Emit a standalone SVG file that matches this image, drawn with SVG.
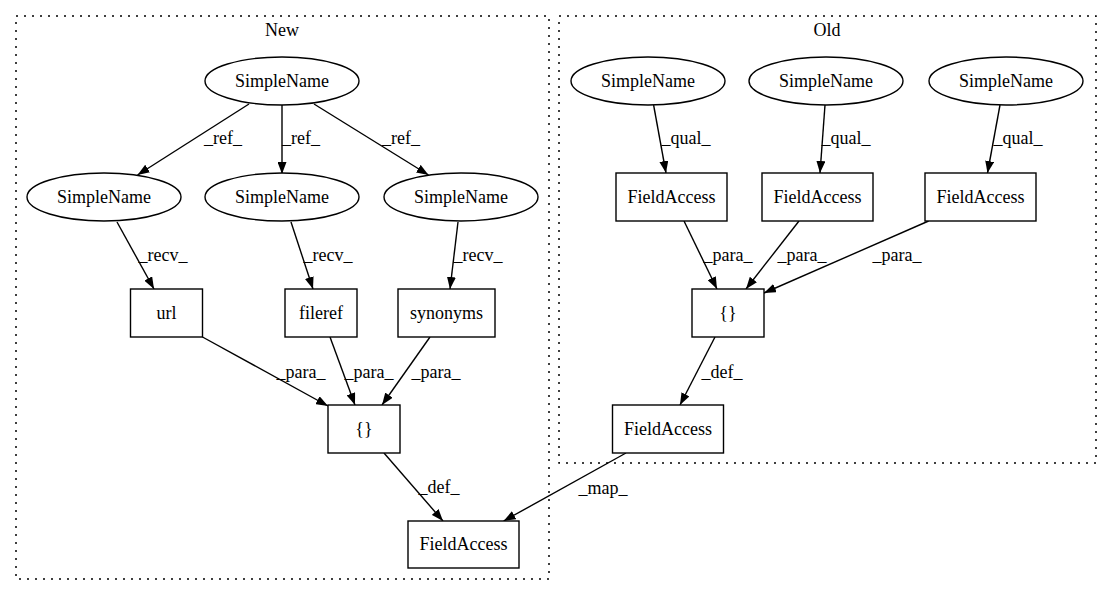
<svg xmlns="http://www.w3.org/2000/svg" width="1109" height="596" viewBox="0 0 1109 596">
<style>
text{font-family:"Liberation Serif","Times New Roman",serif;font-size:18px;fill:#000;text-anchor:middle}
.n{fill:#fff;stroke:#000;stroke-width:1.4}
.c{fill:none;stroke:#000;stroke-width:1.5;stroke-dasharray:2,6}
.e{fill:none;stroke:#000;stroke-width:1.4;marker-end:url(#arr)}
</style>
<defs>
<marker id="arr" viewBox="0 0 12 9" refX="12" refY="4.5" markerWidth="12" markerHeight="9" orient="auto" markerUnits="userSpaceOnUse"><path d="M0,0 L12,4.5 L0,9 z" fill="#000"/></marker>
</defs>
<rect width="1109" height="596" fill="#fff"/>
<g id="clusters">
<rect class="c" x="16" y="16" width="533" height="563"/>
<text x="282" y="36">New</text>
<rect class="c" x="559" y="16" width="537" height="447"/>
<text x="827" y="36">Old</text>
</g>
<g id="connectors">
<path class="e" d="M249,104 L137.5,175"/>
<path class="e" d="M282,105 L282,174"/>
<path class="e" d="M314,104 L428.5,175"/>
<path class="e" d="M117,222 L154,289"/>
<path class="e" d="M291,222 L313,289"/>
<path class="e" d="M458,222 L450,289"/>
<path class="e" d="M202.5,337 L328,406"/>
<path class="e" d="M330,337 L355,405"/>
<path class="e" d="M430,337 L382,405"/>
<path class="e" d="M384,453 L443,521"/>
<path class="e" d="M653.6,105 L666,173"/>
<path class="e" d="M825,105 L820,173"/>
<path class="e" d="M1000,105 L987.5,173"/>
<path class="e" d="M684,221 L717,289"/>
<path class="e" d="M799,221 L746,289"/>
<path class="e" d="M928.6,221 L764,293"/>
<path class="e" d="M715,337 L680,405"/>
<path class="e" d="M626,453 L503.6,521"/>
<text x="223" y="144">_ref_</text>
<text x="301" y="144">_ref_</text>
<text x="401" y="144">_ref_</text>
<text x="163" y="261">_recv_</text>
<text x="328" y="261">_recv_</text>
<text x="478" y="261">_recv_</text>
<text x="301" y="378">_para_</text>
<text x="369" y="378">_para_</text>
<text x="436" y="378">_para_</text>
<text x="439" y="493">_def_</text>
<text x="686" y="144">_qual_</text>
<text x="846" y="144">_qual_</text>
<text x="1018" y="144">_qual_</text>
<text x="728" y="261">_para_</text>
<text x="802" y="261">_para_</text>
<text x="897" y="261">_para_</text>
<text x="722" y="378">_def_</text>
<text x="603" y="494">_map_</text>
</g>
<g id="new_sn_top"><ellipse class="n" cx="282" cy="81" rx="77" ry="24"/><text x="282" y="87">SimpleName</text></g>
<g id="new_sn_1"><ellipse class="n" cx="104" cy="197" rx="77" ry="24"/><text x="104" y="203">SimpleName</text></g>
<g id="new_sn_2"><ellipse class="n" cx="282" cy="197" rx="77" ry="24"/><text x="282" y="203">SimpleName</text></g>
<g id="new_sn_3"><ellipse class="n" cx="461" cy="197" rx="77" ry="24"/><text x="461" y="203">SimpleName</text></g>
<g id="new_url"><rect class="n" x="130.5" y="289" width="72" height="48"/><text x="166.5" y="319">url</text></g>
<g id="new_fileref"><rect class="n" x="285" y="289" width="72" height="48"/><text x="321" y="319">fileref</text></g>
<g id="new_synonyms"><rect class="n" x="398" y="289" width="97" height="48"/><text x="446.5" y="319">synonyms</text></g>
<g id="new_braces"><rect class="n" x="328" y="405" width="72" height="48"/><text x="364" y="435">{}</text></g>
<g id="new_fa"><rect class="n" x="408" y="521" width="111" height="47"/><text x="463.5" y="550">FieldAccess</text></g>
<g id="old_sn_1"><ellipse class="n" cx="648" cy="81" rx="77" ry="24"/><text x="648" y="87">SimpleName</text></g>
<g id="old_sn_2"><ellipse class="n" cx="826" cy="81" rx="77" ry="24"/><text x="826" y="87">SimpleName</text></g>
<g id="old_sn_3"><ellipse class="n" cx="1006" cy="81" rx="77" ry="24"/><text x="1006" y="87">SimpleName</text></g>
<g id="old_fa_1"><rect class="n" x="616" y="173" width="111" height="48"/><text x="671.5" y="203">FieldAccess</text></g>
<g id="old_fa_2"><rect class="n" x="762" y="173" width="111" height="48"/><text x="817.5" y="203">FieldAccess</text></g>
<g id="old_fa_3"><rect class="n" x="925" y="173" width="111" height="48"/><text x="980.5" y="203">FieldAccess</text></g>
<g id="old_braces"><rect class="n" x="692" y="289" width="72" height="48"/><text x="728" y="319">{}</text></g>
<g id="old_fa_4"><rect class="n" x="612.5" y="405" width="111" height="48"/><text x="668" y="435">FieldAccess</text></g>
</svg>
